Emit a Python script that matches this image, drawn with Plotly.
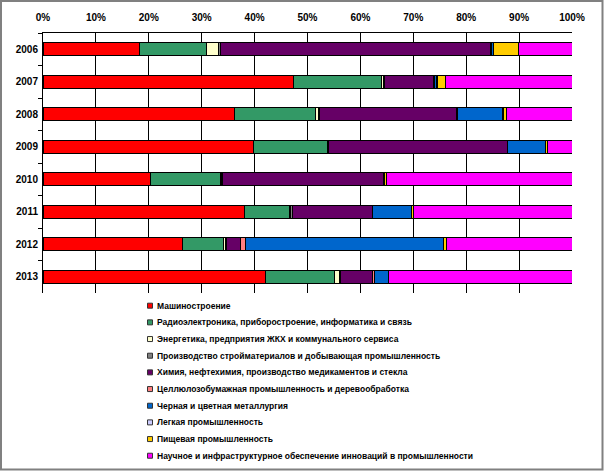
import plotly.graph_objects as go

years = ["2006", "2007", "2008", "2009", "2010", "2011", "2012", "2013"]

series_names = [
    "Машиностроение",
    "Радиоэлектроника, приборостроение, информатика и связь",
    "Энергетика, предприятия ЖКХ и коммунального сервиса",
    "Производство стройматериалов и добывающая промышленность",
    "Химия, нефтехимия, производство медикаментов и стекла",
    "Целлюлозобумажная промышленность и деревообработка",
    "Черная и цветная металлургия",
    "Легкая промышленность",
    "Пищевая промышленность",
    "Научное и инфраструктурное обеспечение инноваций в промышленности",
]

# shares in percent, per year 2006..2013
mashinostroenie = [18.3, 47.4, 36.2, 39.8, 20.3, 38.0, 26.3, 42.1]
radioelektronika = [12.7, 16.5, 15.4, 13.9, 13.2, 8.6, 7.8, 13.0]
energetika = [2.2, 0.4, 0.4, 0.1, 0.3, 0.1, 0.4, 0.9]
stroymaterialy = [0.3, 0.2, 0.3, 0.2, 0.2, 0.4, 0.1, 0.2]
khimiya = [51.0, 9.3, 25.9, 33.9, 30.4, 15.1, 2.7, 6.0]
cellyuloza = [0.2, 0.2, 0.1, 0.0, 0.1, 0.0, 1.0, 0.4]
metallurgiya = [0.4, 0.4, 8.6, 7.1, 0.0, 7.4, 37.4, 2.8]
legkaya = [0.1, 0.1, 0.1, 0.0, 0.0, 0.0, 0.1, 0.0]
pishchevaya = [4.6, 1.6, 0.6, 0.3, 0.4, 0.5, 0.4, 0.0]
nauchnoe = [10.2, 23.9, 12.4, 4.7, 35.1, 29.9, 23.8, 34.6]

series_values = [
    mashinostroenie, radioelektronika, energetika, stroymaterialy, khimiya,
    cellyuloza, metallurgiya, legkaya, pishchevaya, nauchnoe,
]
colors = [
    "#FF0000", "#339966", "#FFFFCC", "#808080", "#660066",
    "#FF8080", "#0066CC", "#CCCCFF", "#FFCC00", "#FF00FF",
]

# plot area in pixels (used for the hand-made legend and frame)
L, R, T, B = 43, 572, 33, 293
W, H = R - L, B - T

fig = go.Figure()
for name, vals, col in zip(series_names, series_values, colors):
    fig.add_trace(go.Bar(
        y=years, x=vals, name=name, orientation="h",
        marker=dict(color=col, line=dict(color="#000000", width=1)),
        width=0.4, showlegend=False,
    ))

# legend drawn as small squares + text, Excel style
shapes = []
annotations = []
for i, (name, col) in enumerate(zip(series_names, colors)):
    yc = 305.7 + i * 16.67
    shapes.append(dict(
        type="rect", xref="paper", yref="paper",
        x0=(147.5 - L) / W, x1=(152.5 - L) / W,
        y0=(B - yc - 2.5) / H, y1=(B - yc + 2.5) / H,
        fillcolor=col, line=dict(color="#333333", width=1),
    ))
    annotations.append(dict(
        text=name, xref="paper", yref="paper",
        x=(154.5 - L) / W, y=(B - yc) / H,
        xanchor="left", yanchor="middle", showarrow=False,
        font=dict(size=8.5, family="Liberation Sans, Arial", color="black", weight="bold"),
    ))

# outer chart frame
shapes.append(dict(
    type="rect", xref="paper", yref="paper",
    x0=(1 - L) / W, x1=(602.5 - L) / W,
    y0=(B - 469.5) / H, y1=(B - 1) / H,
    line=dict(color="#808080", width=2),
))

fig.update_layout(
    barmode="stack",
    barnorm="percent",
    width=605, height=471,
    margin=dict(l=L, r=605 - R, t=T, b=471 - B),
    paper_bgcolor="white",
    plot_bgcolor="white",
    font=dict(family="Liberation Sans, Arial", size=9, color="black"),
    xaxis=dict(
        side="top", range=[0, 100], dtick=10, ticksuffix="%",
        showgrid=True, gridcolor="#000000", gridwidth=1,
        showline=True, linecolor="black", linewidth=1,
        ticks="", ticklabelstandoff=7,
        tickfont=dict(size=10, weight="bold"),
        zeroline=False, automargin=False,
    ),
    yaxis=dict(
        autorange="reversed",
        showline=True, linecolor="black", linewidth=1,
        ticks="outside", ticklen=4, tickson="boundaries", tickcolor="black",
        ticklabelstandoff=2,
        tickfont=dict(size=10, weight="bold"),
        showgrid=False, automargin=False,
    ),
    shapes=shapes,
    annotations=annotations,
)

fig.write_html(
    "out.html",
    config={"displayModeBar": False},
    post_script="document.body.style.margin='0';",
)
